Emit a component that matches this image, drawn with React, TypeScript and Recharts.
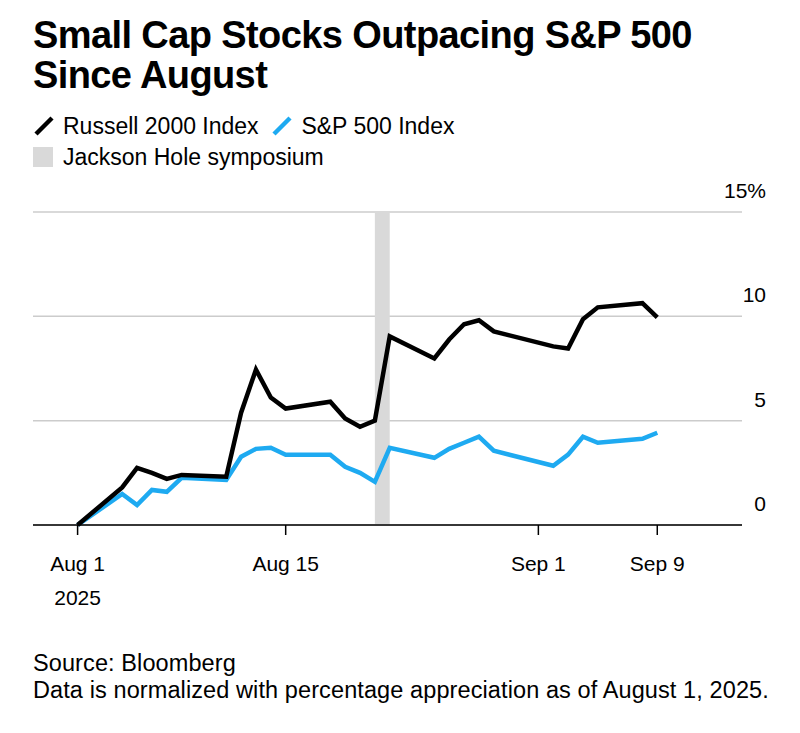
import React from 'react';
import { LineChart, Line, XAxis, YAxis, CartesianGrid, ReferenceArea } from 'recharts';

// day offset from Aug 1, 2025 (trading days only)
const days = [0, 3, 4, 5, 6, 7, 10, 11, 12, 13, 14, 17, 18, 19, 20, 21, 24, 25, 26, 27, 28, 32, 33, 34, 35, 38, 39];
const russell = [0, 1.8, 2.74, 2.5, 2.21, 2.4, 2.31, 5.38, 7.45, 6.11, 5.58, 5.91, 5.1, 4.71, 5.0, 9.04, 7.98, 8.89, 9.62, 9.81, 9.28, 8.56, 8.46, 9.86, 10.43, 10.63, 9.95];
const sp500 = [0, 1.49, 0.96, 1.68, 1.59, 2.26, 2.16, 3.27, 3.65, 3.7, 3.37, 3.37, 2.79, 2.5, 2.07, 3.7, 3.22, 3.65, 3.94, 4.23, 3.56, 2.84, 3.37, 4.23, 3.94, 4.13, 4.42];
const xTicks = [0, 14, 31, 39];
const xTickLabels = ['Aug 1', 'Aug 15', 'Sep 1', 'Sep 9'];
const yTicks = [0, 5, 10, 15];
const jacksonHole = [20, 21];

const data = days.map((d, i) => ({ d, russell: russell[i], sp500: sp500[i] }));

const FONT = '"Liberation Sans", Arial, sans-serif';

const XTick = (props: any) => {
  const { x, y, payload } = props;
  const idx = xTicks.indexOf(payload.value);
  return (
    <g>
      <line x1={x} x2={x} y1={y - 8} y2={y + 2} stroke="#000" strokeWidth={1.5} />
      <text x={x} y={y + 38} textAnchor="middle" fontSize={21} fontFamily={FONT} fill="#000">
        {xTickLabels[idx]}
      </text>
      {idx === 0 && (
        <text x={x} y={y + 72} textAnchor="middle" fontSize={21} fontFamily={FONT} fill="#000">2025</text>
      )}
    </g>
  );
};

const YTick = (props: any) => {
  const { y, payload } = props;
  return (
    <text x={766} y={y - 14} textAnchor="end" fontSize={21} fontFamily={FONT} fill="#000">
      {payload.value === 15 ? '15%' : payload.value}
    </text>
  );
};

const Slash = ({ color }: { color: string }) => (
  <svg width={22} height={22} style={{ verticalAlign: 'middle', marginRight: 8, marginTop: -4 }}>
    <line x1={3} y1={19} x2={19} y2={3} stroke={color} strokeWidth={4.5} />
  </svg>
);

export default function App() {
  return (
    <div style={{ position: 'absolute', left: 0, top: 0, width: 800, height: 733, background: '#fff', fontFamily: FONT, color: '#000' }}>
      <div style={{ position: 'absolute', left: 33, top: 15, fontSize: 38, fontWeight: 700, lineHeight: '40px', letterSpacing: -0.6 }}>
        Small Cap Stocks Outpacing S&amp;P 500<br />Since August
      </div>
      <div style={{ position: 'absolute', left: 33, top: 112, fontSize: 23, lineHeight: '28px' }}>
        <Slash color="#000" />Russell 2000 Index&nbsp;&nbsp;<Slash color="#1eaaf1" />S&amp;P 500 Index
      </div>
      <div style={{ position: 'absolute', left: 33, top: 143, fontSize: 23, lineHeight: '28px' }}>
        <span style={{ display: 'inline-block', width: 20, height: 20, background: '#d9d9d9', verticalAlign: 'middle', marginRight: 10, marginTop: -4 }} />
        Jackson Hole symposium
      </div>
      <div style={{ position: 'absolute', left: 0, top: 0 }}>
        <LineChart width={800} height={640} data={data} margin={{ top: 212, right: 0, bottom: 0, left: 33 }}>
          <CartesianGrid horizontal vertical={false} stroke="#cccccc" strokeWidth={1.5} />
          <ReferenceArea x1={jacksonHole[0]} x2={jacksonHole[1]} fill="#d9d9d9" fillOpacity={1} stroke="none" ifOverflow="visible" />
          <XAxis
            dataKey="d"
            type="number"
            domain={[-3, 44.7]}
            ticks={xTicks}
            tick={<XTick />}
            tickLine={false}
            axisLine={{ stroke: '#000', strokeWidth: 1.5 }}
            height={115}
            interval={0}
          />
          <YAxis orientation="right" domain={[0, 15]} ticks={yTicks} tick={<YTick />} axisLine={false} tickLine={false} width={58} />
          <Line type="linear" dataKey="sp500" stroke="#1eaaf1" strokeWidth={4.5} dot={false} isAnimationActive={false} />
          <Line type="linear" dataKey="russell" stroke="#000" strokeWidth={4.5} dot={false} isAnimationActive={false} />
        </LineChart>
      </div>
      <div style={{ position: 'absolute', left: 33, top: 650, fontSize: 23.5, lineHeight: '27px', letterSpacing: 0.1 }}>
        Source: Bloomberg<br />Data is normalized with percentage appreciation as of August 1, 2025.
      </div>
    </div>
  );
}
